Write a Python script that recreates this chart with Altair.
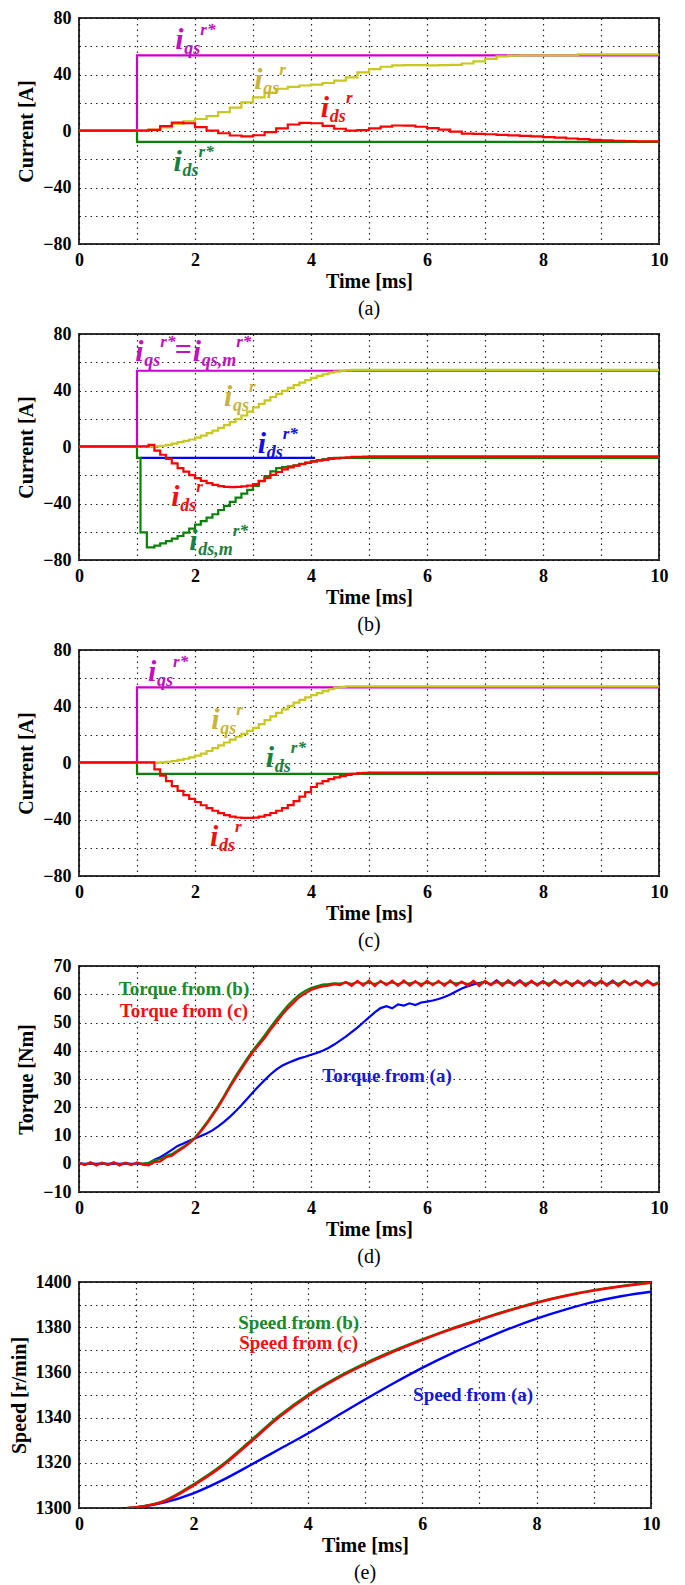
import altair as alt
import pandas as pd

FONT = "Liberation Serif, Times New Roman, Times, serif"

def grid(a, b, step=0.1):
    n = int(round((b - a) / step))
    return [round(a + step * i, 2) for i in range(n + 1)]

# ---------------- tick values ----------------
X_TICKS = list(range(0, 11))
Y_TICKS_CUR = [-80, -60, -40, -20, 0, 20, 40, 60, 80]
Y_TICKS_TQ = [-10, 0, 10, 20, 30, 40, 50, 60, 70]
Y_TICKS_SP = [1300, 1310, 1320, 1330, 1340, 1350, 1360, 1370, 1380, 1390, 1400]

# ---------------- colours ----------------
MAGENTA = "#cc00cc"
OLIVE = "#c8c81e"
GREEN = "#0a820a"
RED = "#ff0000"
BLUE = "#0000ff"

# ---------------- panel (a) ----------------
A_REF_T = [0.0, 1.0, 10.0]
A_IQS_REF = [0.3, 53.5, 53.5]
A_IDS_REF = [0.3, -7.7, -7.7]
A_IQS_T = [0.0] + grid(1.2, 7.4, 0.2) + [7.6, 8.6, 10.0]
A_IQS = ([0.5]
         + [1.0, 2.5, 5.0, 6.8, 8.5, 10.5, 13.3, 16.5, 20.3, 23.8, 27.0, 29.9, 31.3, 32.2, 32.8,
            34.0, 35.6, 38.0, 41.5, 43.8, 45.5, 46.4, 46.7, 46.6, 46.5, 46.6, 46.8, 47.8, 49.3,
            51.0, 52.8, 53.3]
         + [53.5, 54.2, 54.3])
A_IDS_T = [0.0] + grid(1.2, 9.6, 0.2) + [10.0]
A_IDS = ([0.3]
         + [0.8, 3.5, 6.0, 5.5]
         + [2.8, 0.3, -1.6, -3.2, -3.8]
         + [-3.0, -0.8, 1.8, 4.6, 5.8]
         + [5.5, 3.6, 1.6, 0.3, 0.6]
         + [1.8, 3.1, 3.9, 3.8, 3.0]
         + [2.0, 1.0, -0.5, -1.8, -2.1]
         + [-2.3, -2.7, -3.1, -3.5, -3.8]
         + [-4.3, -4.7, -5.3, -5.8, -6.3]
         + [-6.7, -7.0, -7.2, -7.3]
         + [-7.3])

# ---------------- panel (b) ----------------
B_REF_T = [0.0, 1.0, 10.0]
B_IQS_REF = [0.3, 54.0, 54.0]
B_IDS_REF_T = [1.06, 4.07]
B_IDS_REF = [-7.7, -7.7]
B_T = [0.0] + grid(1.2, 5.0) + [10.0]
B_IQS = ([0.5]
         + [0.3, 0.4, 0.9, 1.5, 2.4, 3.4, 4.3, 5.3]
         + [6.6, 8.1, 9.8, 11.6, 13.5, 15.5, 17.6, 19.8, 22.3, 25.0]
         + [28.0, 30.6, 33.0, 35.4, 37.6, 39.7, 41.8, 43.8, 45.6, 47.3]
         + [48.9, 50.3, 51.5, 52.6, 53.4, 54.0, 54.4, 54.6, 54.6, 54.6]
         + [54.6, 54.6])
B_IDS = ([0.4]
         + [1.5, -2.5, -5.5, -8.4, -11.6, -14.9, -17.4, -19.9]
         + [-22.0, -24.0, -25.6, -26.8, -27.7, -28.2, -28.4, -28.3, -27.9, -27.3]
         + [-26.3, -24.2, -21.8, -19.7, -17.7, -15.9, -14.4, -13.2, -12.1, -11.2]
         + [-10.4, -9.7, -9.1, -8.5, -8.0, -7.6, -7.3, -7.0, -6.9, -6.8]
         + [-6.7, -6.5])
B_IDSM_T = [0.0, 1.0, 1.06, 1.17] + grid(1.3, 4.4) + [10.0]
B_IDSM = ([0.3, -7.7, -60.5, -71.0]
          + [-69.8, -68.3, -66.6, -64.9, -63.0, -60.6, -57.8]
          + [-55.0, -52.5, -50.0, -47.6, -44.6, -41.7, -38.8, -35.8, -33.0, -30.3]
          + [-27.6, -24.0, -20.6, -17.2, -15.0, -14.2, -13.7, -13.0, -12.0, -11.0]
          + [-10.0, -9.2, -8.5, -7.9, -7.7]
          + [-7.7])

# ---------------- panel (c) ----------------
C_REF_T = [0.0, 1.0, 10.0]
C_IQS_REF = [0.3, 53.5, 53.5]
C_IDS_REF = [0.3, -7.7, -7.7]
C_T = [0.0] + grid(1.2, 5.0) + [10.0]
C_IQS = ([0.4]
         + [0.3, 0.2, 0.5, 0.9, 1.4, 2.2, 3.0, 4.0]
         + [5.2, 6.7, 8.5, 10.5, 12.5, 14.5, 16.5, 18.6, 20.6, 22.7]
         + [24.8, 27.5, 30.3, 33.0, 35.5, 37.9, 40.4, 42.7, 44.7, 46.5]
         + [48.0, 49.5, 50.9, 52.2, 53.3, 53.9, 54.2, 54.3, 54.3, 54.3]
         + [54.3, 54.3])
C_IDS = ([0.5]
         + [0.5, -4.5, -9.0, -12.8, -16.4, -19.7, -22.8, -25.4]
         + [-27.6, -29.9, -32.0, -33.8, -35.5, -36.9, -37.9, -38.6, -38.9, -38.9]
         + [-38.7, -37.9, -36.9, -35.4, -33.8, -32.0, -29.8, -27.0, -23.8, -20.6]
         + [-17.0, -14.5, -12.9, -11.4, -10.2, -9.3, -8.4, -7.7, -7.2, -7.0]
         + [-6.8, -6.6])

# ---------------- panel (d) torque ----------------
D_T = grid(0.0, 10.0)
D_TQ_C = ([0.3, -0.5, 0.5, -0.6, 0.4, -0.5, 0.5, -0.6, 0.4, -0.5]
          + [0.5, -0.3, -0.6, 0.6, 0.8, 2.3, 2.8, 4.3, 5.6, 7.2]
          + [9.0, 11.4, 14.0, 17.0, 20.0, 23.5, 27.0, 30.3, 33.5, 36.6]
          + [39.5, 42.0, 44.5, 47.4, 50.0, 52.6, 55.0, 57.0, 59.0, 60.3]
          + [61.5, 62.2, 62.8, 63.0, 63.6, 63.2, 64.3, 63.0, 64.7, 63.1]
          + [64.9, 62.9, 64.7, 63.2, 64.8, 63.0, 64.9, 63.1, 64.6, 62.9]
          + [64.8, 63.2, 64.7, 63.0, 64.9, 63.1, 64.5, 63.0, 64.8, 62.9]
          + [64.7, 63.2, 64.6, 63.0, 64.9, 63.1, 64.7, 62.9, 64.8, 63.1]
          + [64.6, 63.0, 64.9, 63.2, 64.7, 62.9, 64.8, 63.0, 64.6, 63.1]
          + [64.9, 63.0, 64.7, 62.9, 64.8, 63.2, 64.6, 63.0, 64.8, 63.1]
          + [64.0])
D_TQ_B = ([0.2, -0.3, 0.3, -0.4, 0.3, -0.3, 0.4, -0.4, 0.3, -0.3]
          + [0.3, 0.0, 0.3, 1.2, 1.6, 2.8, 3.4, 4.7, 6.0, 7.6]
          + [9.3, 11.8, 14.5, 17.5, 20.6, 24.0, 27.6, 31.0, 34.2, 37.3]
          + [40.2, 42.8, 45.4, 48.3, 51.0, 53.6, 56.0, 58.0, 59.9, 61.2]
          + [62.2, 62.8, 63.4, 63.6, 63.9, 63.8, 64.2, 63.6, 64.3, 63.7]
          + [64.2, 63.6, 64.4, 63.7, 64.2, 63.5, 64.3, 63.8, 64.4, 63.6]
          + [64.2, 63.7, 64.3, 63.6, 64.4, 63.8, 64.2, 63.6, 64.3, 63.7]
          + [64.4, 63.6, 64.3, 63.8, 64.2, 63.6, 64.4, 63.7, 64.3, 63.6]
          + [64.2, 63.8, 64.4, 63.6, 64.3, 63.7, 64.2, 63.6, 64.4, 63.8]
          + [64.3, 63.6, 64.2, 63.7, 64.6, 63.5, 64.4, 63.6, 64.3, 63.4]
          + [64.3])
D_TQ_A = ([0.1, 0.0, 0.1, 0.0, 0.1, 0.0, 0.1, 0.0, 0.1, 0.0]
          + [0.0, 0.0, 0.2, 1.4, 2.3, 3.6, 4.9, 6.3, 7.2, 8.1]
          + [8.9, 9.8, 10.7, 11.8, 13.2, 14.8, 16.6, 18.6, 20.7, 23.0]
          + [25.3, 27.5, 29.6, 31.6, 33.3, 34.7, 35.7, 36.5, 37.3, 37.9]
          + [38.6, 39.2, 40.0, 41.0, 42.2, 43.6, 45.0, 46.6, 48.2, 50.0]
          + [51.8, 53.6, 55.1, 55.8, 55.0, 56.4, 56.0, 56.8, 56.2, 57.1]
          + [57.4, 57.8, 58.3, 59.0, 59.9, 61.0, 62.0, 62.8, 63.5, 64.0]
          + [64.4, 63.4, 64.9, 63.3, 64.8, 63.5, 64.9, 63.2, 64.6, 63.4]
          + [64.7, 63.3, 64.9, 63.4, 64.6, 63.2, 64.7, 63.5, 64.8, 63.3]
          + [64.6, 63.4, 64.8, 63.2, 64.7, 63.5, 64.6, 63.3, 64.8, 63.4]
          + [64.1])

# ---------------- panel (e) speed ----------------
E_T_BC = [0.85, 1.0, 1.5, 2.0, 2.5, 3.0, 3.5, 4.0, 4.5, 5.0, 5.5, 6.0, 6.5, 7.0, 7.5, 8.0, 8.5, 9.0, 9.5, 10.0]
E_SP_C = [1300.0, 1300.3, 1303.0, 1310.0, 1318.5, 1329.2, 1340.2, 1349.5, 1357.1, 1363.5,
          1369.2, 1374.3, 1379.0, 1383.2, 1387.2, 1390.8, 1393.8, 1396.2, 1398.1, 1399.6]
E_SP_B = [1300.0, 1300.4, 1303.3, 1310.4, 1319.0, 1329.8, 1340.8, 1350.0, 1357.6, 1364.0,
          1369.6, 1374.6, 1379.3, 1383.4, 1387.4, 1391.0, 1394.0, 1396.4, 1398.3, 1399.8]
E_T_A = [0.75, 1.0, 1.5, 2.0, 2.5, 3.0, 3.5, 4.0, 4.5, 5.0, 5.5, 6.0, 6.5, 7.0, 7.5, 8.0, 8.5, 9.0, 9.5, 10.0]
E_SP_A = [1299.8, 1300.3, 1302.5, 1306.5, 1312.2, 1319.0, 1326.0, 1333.0, 1340.5, 1348.0,
          1355.2, 1362.0, 1368.2, 1373.8, 1379.1, 1383.8, 1387.8, 1391.2, 1393.8, 1395.7]

pairs = [(A_IQS_T, A_IQS), (A_IDS_T, A_IDS), (B_T, B_IQS), (B_T, B_IDS), (B_IDSM_T, B_IDSM),
         (C_T, C_IQS), (C_T, C_IDS), (D_T, D_TQ_C), (D_T, D_TQ_B), (D_T, D_TQ_A),
         (E_T_BC, E_SP_C), (E_T_BC, E_SP_B), (E_T_A, E_SP_A)]
for i, (tt, vv) in enumerate(pairs):
    assert len(tt) == len(vv), (i, len(tt), len(vv))

W = 580
H = 226


def encs(ydomain, yticks, ylabel_expr, ytitle):
    x = alt.X("t:Q", scale=alt.Scale(domain=[0, 10], nice=False, zero=False),
              axis=alt.Axis(values=X_TICKS, labelExpr="datum.value % 2 === 0 ? datum.label : ''",
                            title="Time [ms]"))
    y = alt.Y("v:Q", scale=alt.Scale(domain=ydomain, nice=False, zero=False),
              axis=alt.Axis(values=yticks, labelExpr=ylabel_expr, title=ytitle, format="d"))
    return x, y


def line(t, v, color, x, y, interp="step-after", width=2.2):
    df = pd.DataFrame({"t": t, "v": v})
    return alt.Chart(df).mark_line(color=color, strokeWidth=width, interpolate=interp,
                                   clip=True).encode(x=x, y=y)


def char_w(s, size):
    widths = {"q": 0.5, "s": 0.39, "d": 0.5, ",": 0.25, "m": 0.78, "r": 0.39, "*": 0.5}
    return sum(widths.get(c, 0.5) for c in s) * size


def math_label(t, v, sub, sup, color, x, y):
    df = pd.DataFrame({"t": [t], "v": [v]})
    base = alt.Chart(df).encode(x=x, y=y)
    kw = dict(font=FONT, fontWeight="bold", fontStyle="italic", align="left",
              baseline="alphabetic", color=color)
    main = base.mark_text(text="i", fontSize=30, **kw)
    s = base.mark_text(text=sub, fontSize=18, dx=9, dy=5, **kw)
    p = base.mark_text(text=sup, fontSize=17, dx=9 + char_w(sub, 18), dy=-14, **kw)
    return [main, s, p]


def plain_text(t, v, text, color, x, y, size=19):
    df = pd.DataFrame({"t": [t], "v": [v]})
    return alt.Chart(df).mark_text(text=text, font=FONT, fontSize=size, fontWeight="bold",
                                   align="center", baseline="middle", color=color).encode(x=x, y=y)


def caption(s):
    return alt.TitleParams(text=s, orient="bottom", font=FONT, fontSize=20, fontWeight="normal",
                           color="black", offset=8, anchor="middle")


CUR_EXPR = "datum.value % 40 === 0 ? datum.label : ''"

# panel a
xa, ya = encs([-80, 80], Y_TICKS_CUR, CUR_EXPR, "Current [A]")
layers_a = [
    line(A_REF_T, A_IQS_REF, MAGENTA, xa, ya),
    line(A_REF_T, A_IDS_REF, GREEN, xa, ya),
    line(A_IQS_T, A_IQS, OLIVE, xa, ya),
    line(A_IDS_T, A_IDS, RED, xa, ya),
]
layers_a += math_label(1.66, 58, "qs", "r*", "#c010c0", xa, ya)
layers_a += math_label(3.02, 29.7, "qs", "r", "#c8b43c", xa, ya)
layers_a += math_label(4.17, 9.7, "ds", "r", "#f01010", xa, ya)
layers_a += math_label(1.63, -28.5, "ds", "r*", "#1a8040", xa, ya)
panel_a = alt.layer(*layers_a).properties(width=W, height=H, title=caption("(a)"))

# panel b
xb, yb = encs([-80, 80], Y_TICKS_CUR, CUR_EXPR, "Current [A]")
layers_b = [
    line(B_REF_T, B_IQS_REF, MAGENTA, xb, yb),
    line(B_IDS_REF_T, B_IDS_REF, BLUE, xb, yb),
    line(B_IDSM_T, B_IDSM, GREEN, xb, yb),
    line(B_T, B_IQS, OLIVE, xb, yb),
    line(B_T, B_IDS, RED, xb, yb),
]
layers_b += math_label(0.97, 61, "qs", "r*", "#c010c0", xb, yb)
layers_b.append(alt.Chart(pd.DataFrame({"t": [1.65], "v": [62.5]})).mark_text(
    text="=", font=FONT, fontSize=30, fontWeight="bold", align="left", baseline="alphabetic",
    color="#c010c0").encode(x=xb, y=yb))
layers_b += math_label(1.96, 61, "qs,m", "r*", "#c010c0", xb, yb)
layers_b += math_label(2.5, 28.7, "qs", "r", "#c8b43c", xb, yb)
layers_b += math_label(3.08, -4.2, "ds", "r*", "#1010e0", xb, yb)
layers_b += math_label(1.59, -42, "ds", "r", "#f01010", xb, yb)
layers_b += math_label(1.90, -72.6, "ds,m", "r*", "#1a8040", xb, yb)
panel_b = alt.layer(*layers_b).properties(width=W, height=H, title=caption("(b)"))

# panel c
xc, yc = encs([-80, 80], Y_TICKS_CUR, CUR_EXPR, "Current [A]")
layers_c = [
    line(C_REF_T, C_IQS_REF, MAGENTA, xc, yc),
    line(C_REF_T, C_IDS_REF, GREEN, xc, yc),
    line(C_T, C_IQS, OLIVE, xc, yc),
    line(C_T, C_IDS, RED, xc, yc),
]
layers_c += math_label(1.19, 58, "qs", "r*", "#c010c0", xc, yc)
layers_c += math_label(2.28, 24, "qs", "r", "#c8b43c", xc, yc)
layers_c += math_label(3.22, -3, "ds", "r*", "#1a8040", xc, yc)
layers_c += math_label(2.26, -59, "ds", "r", "#f01010", xc, yc)
panel_c = alt.layer(*layers_c).properties(width=W, height=H, title=caption("(c)"))

# panel d
xd, yd = encs([-10, 70], Y_TICKS_TQ, "datum.label", "Torque [Nm]")
layers_d = [
    line(D_T, D_TQ_A, BLUE, xd, yd, interp="linear"),
    line(D_T, D_TQ_B, GREEN, xd, yd, interp="linear"),
    line(D_T, D_TQ_C, RED, xd, yd, interp="linear"),
    plain_text(1.81, 61.9, "Torque from (b)", "#1a8a2a", xd, yd),
    plain_text(1.81, 54.1, "Torque from (c)", "#f01010", xd, yd),
    plain_text(5.31, 31.1, "Torque from (a)", "#1818d8", xd, yd),
]
panel_d = alt.layer(*layers_d).properties(width=W, height=H, title=caption("(d)"))

# panel e
xe, ye = encs([1300, 1400], Y_TICKS_SP, "(datum.value - 1300) % 20 === 0 ? datum.label : ''",
              "Speed [r/min]")
layers_e = [
    line(E_T_A, E_SP_A, BLUE, xe, ye, interp="monotone", width=2.4),
    line(E_T_BC, E_SP_B, GREEN, xe, ye, interp="monotone", width=2.4),
    line(E_T_BC, E_SP_C, RED, xe, ye, interp="monotone", width=2.4),
    plain_text(3.84, 1381.9, "Speed from (b)", "#1a8a2a", xe, ye),
    plain_text(3.84, 1372.8, "Speed from (c)", "#f01010", xe, ye),
    plain_text(6.89, 1350.0, "Speed from (a)", "#1818d8", xe, ye),
]
panel_e = alt.layer(*layers_e).properties(width=W - 8, height=H, title=caption("(e)"))

chart = alt.vconcat(panel_a, panel_b, panel_c, panel_d, panel_e, spacing=90, bounds="flush").properties(
    padding={"left": 0, "top": 0, "right": 6, "bottom": 0}
).configure_view(
    stroke="#333333", strokeWidth=2
).configure_axis(
    labelFont=FONT, labelFontSize=18, labelFontWeight="bold", labelColor="black",
    titleFont=FONT, titleFontSize=20, titleFontWeight="bold", titleColor="black",
    domain=False, ticks=False, grid=True, gridColor="black", gridDash=[1.5, 4],
    gridWidth=1.2, gridOpacity=0.85, labelFlush=False, labelOverlap=False
).configure_axisX(
    labelPadding=7, titlePadding=2
).configure_axisY(
    labelPadding=8, titlePadding=6
)

chart.save("out.html", embed_options={"renderer": "svg", "actions": False})
